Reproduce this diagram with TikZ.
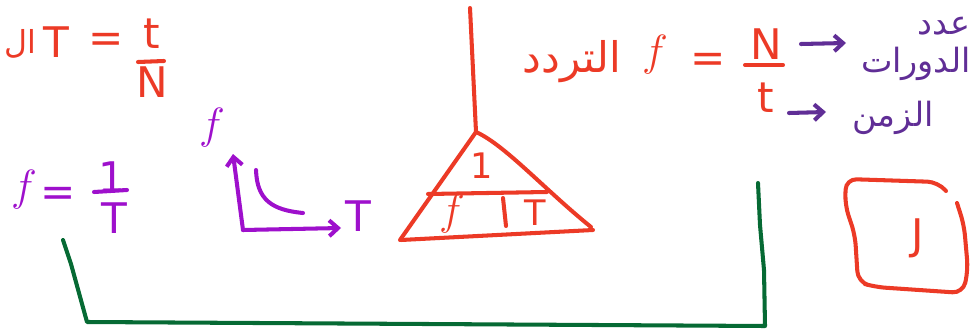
\documentclass[tikz,border=0pt]{standalone}
\usepackage{fontspec}
\setmainfont{DejaVu Sans}
\newfontfamily\arabicfont[Script=Arabic]{DejaVu Sans}
\TeXXeTstate=1
\usetikzlibrary{arrows.meta}
\definecolor{penred}{RGB}{236,58,38}
\definecolor{penviolet}{RGB}{158,16,204}
\definecolor{penpurple}{RGB}{96,46,150}
\definecolor{pengreen}{RGB}{6,106,52}

\begin{document}
\begin{tikzpicture}[x=0.2mm, y=-0.2mm,
    >={Straight Barb[length=5pt,width=9pt]},   %Voreinstellung für Pfeilspitzen
    pen/.style={line width=2.3pt, line cap=round, line join=round},
    redline/.style={pen, penred},
    violine/.style={pen, penviolet},
    purline/.style={pen, penpurple},
    greenline/.style={pen, pengreen},
    redtxt/.style={penred, inner sep=0pt, font=\fontsize{24}{28}\selectfont},
    viotxt/.style={penviolet, inner sep=0pt, font=\fontsize{24}{28}\selectfont},
    purtxt/.style={penpurple, inner sep=0pt, font=\fontsize{19}{22}\selectfont\arabicfont},
    artxt/.style={redtxt, font=\fontsize{24}{28}\selectfont\arabicfont}]
    %Bildbereich
    \useasboundingbox (0,0) rectangle (974,334);
    \clip (0,0) rectangle (974,334);
    %Periode oben links
    \node[artxt, font=\fontsize{18}{22}\selectfont\arabicfont] (arLeft) at (20,44) {\beginR ال\endR};
    \node[redtxt] (TLeft) at (56,42) {T};
    \node[redtxt] (eqLeft) at (106,43) {=};
    \node[redtxt] (tNum) at (152,34) {t};
    \draw[redline] (138,62) -- (164,61);
    \node[redtxt] (NDen) at (152,82) {N};
    %f = 1/T
    \node[viotxt] (fLeft) at (24,190) {$f$};
    \node[viotxt] (eqMid) at (58,197) {=};
    \node[viotxt] (oneNum) at (112,177) {1};
    \draw[violine] (94,192) -- (127,190);
    \node[viotxt] (TDen) at (114,218) {T};
    %Graph f gegen T
    \coordinate (origin) at (243,230);
    \coordinate (yTip) at (233,154);
    \coordinate (xTip) at (341,228);
    \node[viotxt] (fAxis) at (212,128) {$f$};
    \node[viotxt] (TAxis) at (358,216) {T};
    \draw[violine,->] (origin) -- (yTip);
    \draw[violine,->] (origin) -- (xTip);
    \draw[violine] (256,170) .. controls (257,200) and (272,210) .. (303,213);
    %Dreieck
    \coordinate (hang) at (470,8);
    \coordinate (apex) at (476,132);
    \coordinate (baseL) at (400,240);
    \coordinate (baseR) at (591,227);
    \draw[redline] (hang) -- (apex);
    \draw[redline] (baseL) -- (apex) .. controls (505,145) and (545,190) .. (baseR);
    \draw[redline] (401,240) -- (593,230);
    \draw[redline] (428,194) -- (547,192);
    \draw[redline] (503,198) -- (506,226);
    \node[redtxt, font=\fontsize{20}{24}\selectfont] (oneTri) at (482,166) {1};
    \node[redtxt] (fTri) at (452,214) {$f$};
    \node[redtxt, font=\fontsize{20}{24}\selectfont] (TTri) at (535,213) {T};
    %Frequenz oben rechts
    \node[artxt] (arFreq) at (572,62) {\beginR التردد\endR};
    \node[redtxt, font=\fontsize{40}{44}\selectfont] (fRight) at (655,55) {$f$};
    \node[redtxt] (eqRight) at (708,63) {=};
    \node[redtxt] (NNum) at (766,44) {N};
    \draw[redline] (745,65) -- (783,65);
    \node[redtxt] (tDen) at (766,98) {t};
    %Pfeile und Beschriftung
    \node[purtxt] (arCount) at (944,26) {\beginR عدد\endR};
    \node[purtxt] (arCycles) at (916,64) {\beginR الدورات\endR};
    \node[purtxt] (arTime) at (893,118) {\beginR الزمن\endR};
    \coordinate (cntStart) at (801,44);
    \coordinate (cntEnd) at (846,43);
    \coordinate (timStart) at (789,113);
    \coordinate (timEnd) at (826,112);
    \draw[purline,->] (cntStart) -- (cntEnd);
    \draw[purline,->] (timStart) -- (timEnd);
    %grüne Linie
    \coordinate (gA) at (63,240);
    \coordinate (gB) at (71,264);
    \coordinate (gC) at (87,322);
    \coordinate (gD) at (765,326);
    \coordinate (gE) at (758,183);
    \draw[greenline] (gA) -- (gB) -- (gC) -- (gD) -- (764,270) -- (760,225) -- (gE);
    %Kasten mit J
    \draw[redline, rounded corners=6pt] (946,191) -- (938,182) -- (846,179) -- (845,205) -- (855,235) -- (858,282) -- (875,287) -- (963,293) -- (968,270) -- (964,225) -- (957,203);
    \node[redtxt] (JBox) at (918,238) {J};
\end{tikzpicture}
\end{document}
